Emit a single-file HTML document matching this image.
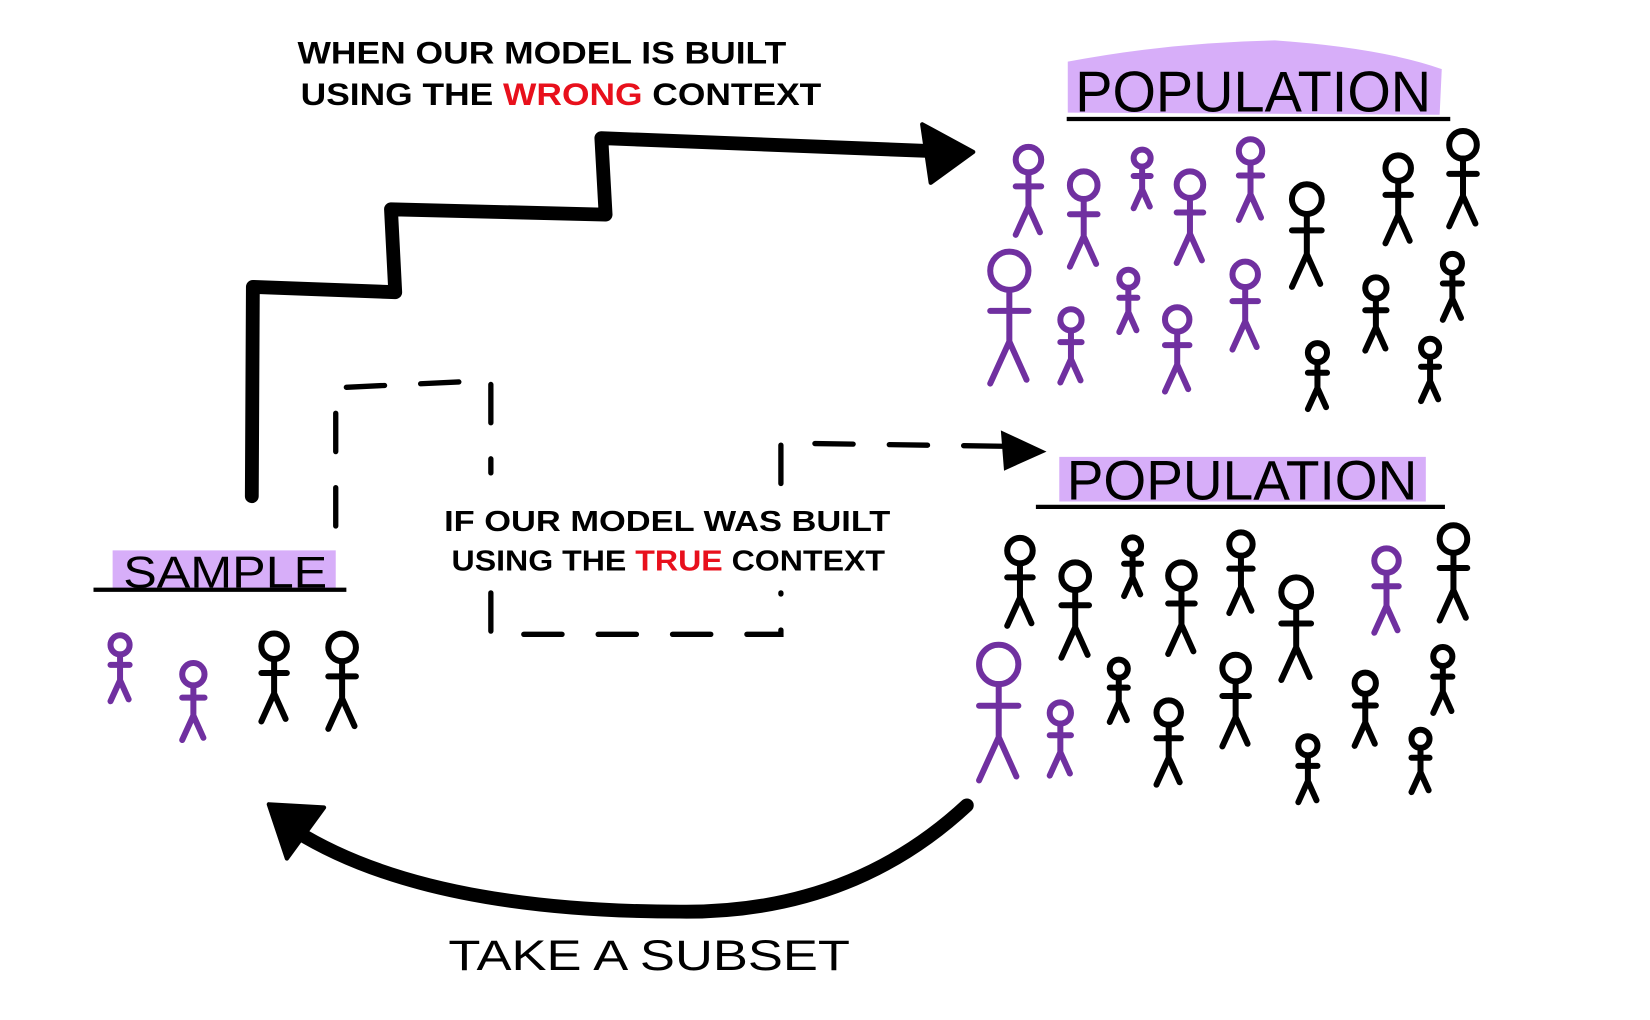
<!DOCTYPE html>
<html><head><meta charset="utf-8"><style>
html,body{margin:0;padding:0;background:#fff;width:1650px;height:1020px;overflow:hidden}
svg{display:block}
text{font-family:"Liberation Sans",sans-serif}
.b{font-weight:bold}
</style></head><body>
<svg width="1650" height="1020" viewBox="0 0 1553 960" preserveAspectRatio="none" xmlns="http://www.w3.org/2000/svg">
<defs>
<g id="f" fill="none" stroke-linecap="round" stroke-linejoin="round">
<circle cx="0" cy="11" r="10" vector-effect="non-scaling-stroke"/>
<path d="M0 21 L0 48 M-10 32 L10 32 M0 48 L-10 70 M0 48 L9 68" vector-effect="non-scaling-stroke"/>
</g>
</defs>
<rect width="1553" height="960" fill="#fff"/>
<path d="M1005 58 Q1100 40 1200 38 Q1300 45 1357 65 L1355 108 L1005 106 Z" fill="#d7aef9"/>
<rect x="997" y="430" width="345" height="42" fill="#d7aef9"/>
<rect x="106" y="518" width="210" height="36" fill="#d7aef9"/>
<path d="M1004 112 L1365 112 M975 477 L1360 477 M88 555 L326 555" stroke="#000" stroke-width="4"/>
<text x="1012" y="105" font-size="54" textLength="335" lengthAdjust="spacingAndGlyphs">POPULATION</text>
<text x="1004" y="470" font-size="52" textLength="330" lengthAdjust="spacingAndGlyphs">POPULATION</text>
<text x="116" y="553" font-size="42" textLength="192" lengthAdjust="spacingAndGlyphs">SAMPLE</text>
<text class="b" x="280" y="60" font-size="30" textLength="460" lengthAdjust="spacingAndGlyphs">WHEN OUR MODEL IS BUILT</text>
<text class="b" x="283" y="99" font-size="30" textLength="490" lengthAdjust="spacingAndGlyphs">USING THE  <tspan fill="#e8101c">WRONG</tspan> CONTEXT</text>
<text class="b" x="418" y="500" font-size="27" textLength="420" lengthAdjust="spacingAndGlyphs">IF OUR MODEL WAS BUILT</text>
<text class="b" x="425" y="537" font-size="27" textLength="408" lengthAdjust="spacingAndGlyphs">USING THE <tspan fill="#e8101c">TRUE</tspan> CONTEXT</text>
<text x="422" y="913" font-size="40" textLength="378" lengthAdjust="spacingAndGlyphs">TAKE A SUBSET</text>
<path d="M237 467 L238 270 L372 275 L368 197 L570 202 L566 130 L872 142" fill="none" stroke="#000" stroke-width="13" stroke-linejoin="round" stroke-linecap="round"/>
<path d="M868 117 L916 143 L876 172 Z" fill="#000" stroke="#000" stroke-width="4" stroke-linejoin="round"/>
<path d="M316 495 L316 365 L462 358 L462 445 M462 558 L462 597 L735 597 L735 558 M735 455 L735 417 L945 420" fill="none" stroke="#000" stroke-width="5" stroke-dasharray="36,34" stroke-linecap="round"/>
<path d="M942 405 L985 425 L945 443 Z" fill="#000"/>
<path d="M910 758 Q800 860 640 858 Q400 858 278 782" fill="none" stroke="#000" stroke-width="13" stroke-linecap="round"/>
<path d="M253 757 L305 760 L270 808 Z" fill="#000" stroke="#000" stroke-width="4" stroke-linejoin="round"/>
<g stroke="#7030a0" stroke-width="6">
<use href="#f" transform="translate(968,137) scale(1.2)"/>
<use href="#f" transform="translate(1020,160) scale(1.3)"/>
<use href="#f" transform="translate(1075,140) scale(0.8)"/>
<use href="#f" transform="translate(1120,160) scale(1.25)"/>
<use href="#f" transform="translate(1177,130) scale(1.1)"/>
<use href="#f" transform="translate(950,235) scale(1.8)"/>
<use href="#f" transform="translate(1008,290) scale(1.0)"/>
<use href="#f" transform="translate(1062,253) scale(0.85)"/>
<use href="#f" transform="translate(1108,288) scale(1.15)"/>
<use href="#f" transform="translate(1172,245) scale(1.2)"/>
<use href="#f" transform="translate(1305,515) scale(1.15)"/>
<use href="#f" transform="translate(940,605) scale(1.85)"/>
<use href="#f" transform="translate(998,660) scale(1.0)"/>
<use href="#f" transform="translate(113,597) scale(0.9)"/>
<use href="#f" transform="translate(182,623) scale(1.05)"/>
</g>
<g stroke="#000" stroke-width="6">
<use href="#f" transform="translate(1230,172) scale(1.4)"/>
<use href="#f" transform="translate(1316,145) scale(1.2)"/>
<use href="#f" transform="translate(1377,122) scale(1.3)"/>
<use href="#f" transform="translate(1367,238) scale(0.9)"/>
<use href="#f" transform="translate(1295,260) scale(1.0)"/>
<use href="#f" transform="translate(1240,322) scale(0.9)"/>
<use href="#f" transform="translate(1346,318) scale(0.85)"/>
<use href="#f" transform="translate(960,505) scale(1.2)"/>
<use href="#f" transform="translate(1012,528) scale(1.3)"/>
<use href="#f" transform="translate(1066,505) scale(0.8)"/>
<use href="#f" transform="translate(1112,528) scale(1.25)"/>
<use href="#f" transform="translate(1168,500) scale(1.1)"/>
<use href="#f" transform="translate(1220,542) scale(1.4)"/>
<use href="#f" transform="translate(1368,493) scale(1.3)"/>
<use href="#f" transform="translate(1053,620) scale(0.85)"/>
<use href="#f" transform="translate(1100,658) scale(1.15)"/>
<use href="#f" transform="translate(1163,615) scale(1.25)"/>
<use href="#f" transform="translate(1285,632) scale(1.0)"/>
<use href="#f" transform="translate(1358,608) scale(0.9)"/>
<use href="#f" transform="translate(1231,692) scale(0.9)"/>
<use href="#f" transform="translate(1337,686) scale(0.85)"/>
<use href="#f" transform="translate(258,595) scale(1.2)"/>
<use href="#f" transform="translate(322,595) scale(1.3)"/>
</g>
</svg>
</body></html>
